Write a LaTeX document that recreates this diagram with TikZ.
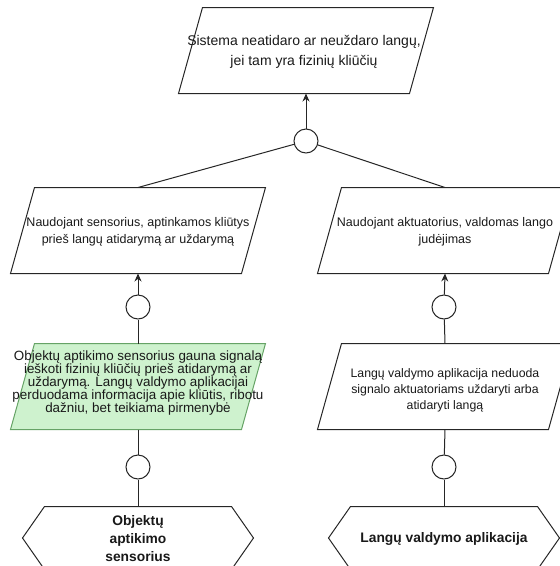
\documentclass[tikz,border=0pt]{standalone}
\usepackage{fontspec}
\setmainfont{Liberation Sans}
\usetikzlibrary{arrows.meta}

% parallelogram and hexagon drawn round an empty box node
\newcommand\paral[2][]{\draw[#1] ([xshift=24pt]#2.north west) -- (#2.north east)
  -- ([xshift=-24pt]#2.south east) -- (#2.south west) -- cycle;}
\newcommand\hexag[1]{\draw (#1.west) -- ([xshift=22pt]#1.north west)
  -- ([xshift=-22pt]#1.north east) -- (#1.east) -- ([xshift=-22pt]#1.south east)
  -- ([xshift=22pt]#1.south west) -- cycle;}

\begin{document}
\begin{tikzpicture}[x=1pt, y=-1pt,
    box/.style={inner sep=0pt, minimum width=254pt, minimum height=85pt},
    hexbox/.style={inner sep=0pt, minimum width=230pt, minimum height=62pt},
    gate/.style={draw, circle, inner sep=0pt, minimum size=24pt},
    txt/.style={align=center, inner sep=0pt, text=black!90},
    arr/.style={-{Stealth[length=8pt,width=7pt]}}]
    \useasboundingbox (0,0) rectangle (560,566);
    \clip (0,0) rectangle (560,566);
    \tikzset{every path/.style={line width=1pt, draw=black!85}}
    \node[box] (goal) at (306,50.5) {};
    \paral{goal}
    \node[txt, font=\fontsize{14}{19.5}\selectfont] (goal-t) at (304,52)
        {Sistema neatidaro ar neuždaro langų,\\jei tam yra fizinių kliūčių};
    \node[gate] (c0) at (306,141) {};
    \draw[arr] (c0) -- (goal.south);

    \node[box] (sens) at (138,230.5) {};
    \paral{sens}
    \node[txt, font=\fontsize{12.5}{17}\selectfont] (sens-t) at (138,232)
        {Naudojant sensorius, aptinkamos kliūtys\\prieš langų atidarymą ar uždarymą};
    \node[box] (act) at (445,230.5) {};
    \paral{act}
    \node[txt, font=\fontsize{12.5}{17}\selectfont] (act-t) at (445,232)
        {Naudojant aktuatorius, valdomas lango\\judėjimas};
    \draw (c0) -- (sens.north);
    \draw (c0) -- (act.north);

    \node[gate] (c1) at (138,307) {};
    \node[gate] (c3) at (444,307) {};
    \draw[arr] (c1) -- (sens.south);
    \draw[arr] (c3) -- (act.south);

    \node[box] (obj) at (138,386.5) {};
    \paral[fill=green!15!white!95!black, draw=green!40!black!60]{obj}
    \node[txt, font=\fontsize{13.4}{12.8}\selectfont] (obj-t) at (138,383)
        {Objektų aptikimo sensorius gauna signalą\\ieškoti fizinių kliūčių prieš atidarymą ar\\uždarymą. Langų valdymo aplikacijai\\perduodama informacija apie kliūtis, ribotu\\dažniu, bet teikiama pirmenybė};
    \node[box] (app) at (445,386.5) {};
    \paral{app}
    \node[txt, font=\fontsize{12.3}{16}\selectfont] (app-t) at (445,390)
        {Langų valdymo aplikacija neduoda\\signalo aktuatoriams uždaryti arba\\atidaryti langą};
    \draw (obj.north) -- (c1);
    \draw (app.north) -- (c3);

    \node[gate] (c2) at (138,467) {};
    \node[gate] (c4) at (444,467) {};
    \draw (obj.south) -- (c2);
    \draw (app.south) -- (c4);

    \node[hexbox] (hexL) at (138,538) {};
    \hexag{hexL}
    \node[txt, font=\bfseries\fontsize{13.8}{18}\selectfont] (hexL-t) at (138,539)
        {Objektų\\aptikimo\\sensorius};
    \node[hexbox] (hexR) at (444,538) {};
    \hexag{hexR}
    \node[txt, font=\bfseries\fontsize{13.8}{18}\selectfont] (hexR-t) at (444,539)
        {Langų valdymo aplikacija};
    \draw (c2) -- (hexL.north);
    \draw (c4) -- (hexR.north);
\end{tikzpicture}
\end{document}
